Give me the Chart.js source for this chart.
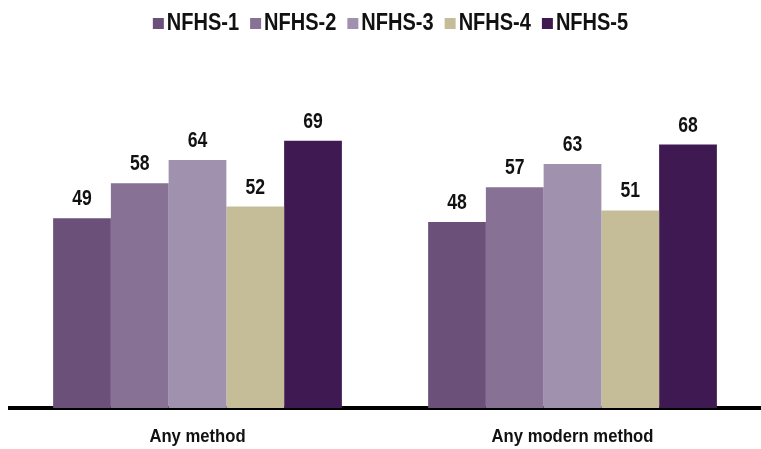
<!DOCTYPE html>
<html>
<head>
<meta charset="utf-8">
<script src="https://cdn.jsdelivr.net/npm/chart.js@4/dist/chart.umd.min.js"></script>
<style>
  html, body { margin: 0; padding: 0; background: #ffffff; }
  #wrap { width: 761px; height: 449px; position: relative; }
</style>
</head>
<body>
<div id="wrap"><canvas id="c"></canvas></div>
<script>
// Contraceptive use by survey round (percent)
const categories = ['Any method', 'Any modern method'];
const seriesNames = ['NFHS-1', 'NFHS-2', 'NFHS-3', 'NFHS-4', 'NFHS-5'];
const nfhs1 = [49, 48];
const nfhs2 = [58, 57];
const nfhs3 = [64, 63];
const nfhs4 = [52, 51];
const nfhs5 = [69, 68];
const seriesColors = ['#6B5079', '#877194', '#A092AE', '#C5BD98', '#3F1A52'];

const FONT = "'Liberation Sans', Arial, sans-serif";
const TEXT_COLOR = '#111111';

const seriesValues = [nfhs1, nfhs2, nfhs3, nfhs4, nfhs5];

// Condensed bold text: draw with a horizontal squeeze
function narrowText(ctx, text, x, y, size, squeeze, align) {
  ctx.save();
  ctx.font = 'bold ' + size + 'px ' + FONT;
  ctx.fillStyle = TEXT_COLOR;
  ctx.textBaseline = 'alphabetic';
  ctx.textAlign = align;
  ctx.translate(x, y);
  ctx.scale(squeeze, 1);
  ctx.fillText(text, 0, 0);
  ctx.restore();
}

function narrowWidth(ctx, text, size, squeeze) {
  ctx.save();
  ctx.font = 'bold ' + size + 'px ' + FONT;
  const w = ctx.measureText(text).width * squeeze;
  ctx.restore();
  return w;
}

// Legend row, value labels and category labels in a condensed face
const textLayer = {
  id: 'textLayer',
  afterDatasetsDraw(chart) {
    const ctx = chart.ctx;

    // legend
    const LS = 23, LK = 0.87, box = 11, boxGap = 3, itemGap = 11;
    const widths = seriesNames.map(n => narrowWidth(ctx, n, LS, LK));
    let total = 0;
    widths.forEach((w, i) => { total += box + boxGap + w + (i < widths.length - 1 ? itemGap : 0); });
    let x = chart.width / 2 + 10 - total / 2;
    seriesNames.forEach((n, i) => {
      ctx.fillStyle = seriesColors[i];
      ctx.fillRect(x, 18, box, box);
      x += box + boxGap;
      narrowText(ctx, n, x, 29.5, LS, LK, 'left');
      x += widths[i] + itemGap;
    });

    // values above bars
    chart.data.datasets.forEach((ds, i) => {
      chart.getDatasetMeta(i).data.forEach((bar, j) => {
        narrowText(ctx, String(ds.data[j]), bar.x, bar.y - 13, 22, 0.8, 'center');
      });
    });

    // category labels
    const xs = chart.scales.x;
    categories.forEach((c, i) => {
      narrowText(ctx, c, xs.getPixelForValue(i), 442, 18.5, 0.9, 'center');
    });
  }
};

new Chart(document.getElementById('c'), {
  type: 'bar',
  data: {
    labels: categories,
    datasets: seriesNames.map((name, i) => ({
      label: name,
      data: seriesValues[i],
      backgroundColor: seriesColors[i],
      borderWidth: 0,
      categoryPercentage: 0.77,
      barPercentage: 1.0
    }))
  },
  options: {
    responsive: true,
    maintainAspectRatio: false,
    animation: false,
    layout: { padding: { left: 10, right: 1, top: 40, bottom: 0 } },
    plugins: {
      legend: { display: false },
      tooltip: { enabled: false }
    },
    scales: {
      x: {
        grid: { display: false, drawTicks: false },
        border: { display: true, color: '#000000', width: 4 },
        ticks: { display: false },
        afterFit(scale) { scale.height = 41; }
      },
      y: {
        display: false,
        min: 0,
        max: 95
      }
    }
  },
  plugins: [textLayer]
});
</script>
</body>
</html>
